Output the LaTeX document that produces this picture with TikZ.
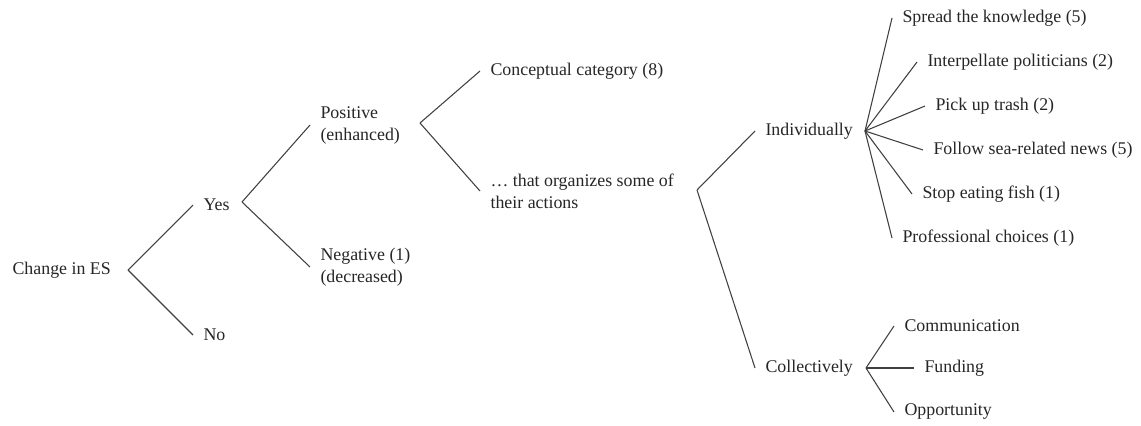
\documentclass[tikz,border=0pt]{standalone}
\usepackage{fontspec}
\setmainfont{Liberation Serif}
\usepackage{tikz}

\begin{document}
\begin{tikzpicture}[x=0.75pt,y=-0.75pt,line width=0.8pt,draw=black!75,
                    every node/.style={anchor=west,inner xsep=7.5pt,inner ysep=0pt,
                      align=left,text=black!85,font=\fontsize{13.4}{16.5}\selectfont}]
  %\useasboundingbox keeps the margins of the original
  \useasboundingbox (0,0) rectangle (1141,425);

  \node (es)    at (2,270)   {Change in ES};
  \node (yes)   at (193,205) {Yes};
  \node (no)    at (193,335) {No};
  \node (pos)   at (310,125) {Positive\\(enhanced)};
  \node (neg)   at (310,267) {Negative (1)\\(decreased)};
  \node (cat)   at (480,71)  {Conceptual category (8)};
  \node (org)   at (480,191) {… that organizes some of\\their actions};
  \node (ind)   at (755,131) {Individually};
  \node (col)   at (755,368) {Collectively};
  \node (know)  at (892,18)  {Spread the knowledge (5)};
  \node (pol)   at (917,62)  {Interpellate politicians (2)};
  \node (trash) at (925,106) {Pick up trash (2)};
  \node (news)  at (923,150) {Follow sea-related news (5)};
  \node (fish)  at (912,194) {Stop eating fish (1)};
  \node (job)   at (892,238) {Professional choices (1)};
  \node (com)   at (894,326) {Communication};
  \node (fund)  at (914,368) {Funding};
  \node (opp)   at (894,412) {Opportunity};

  % branching points
  \coordinate (es-b)  at (128,270);
  \coordinate (yes-b) at (242,202);
  \coordinate (pos-b) at (420,123);
  \coordinate (org-b) at (697,190);
  \coordinate (ind-b) at (865,131);
  \coordinate (col-b) at (866,368);

  \path (es-b)  edge (yes.west) edge (no.west)
        (yes-b) edge (pos.west) edge (neg.west)
        (pos-b) edge (cat.west) edge (org.west)
        (org-b) edge (ind.west) edge (col.west)
        (ind-b) edge (know.west) edge (pol.west) edge (trash.west)
                edge (news.west) edge (fish.west) edge (job.west)
        (col-b) edge (com.west) edge (fund.west) edge (opp.west);
\end{tikzpicture}
\end{document}
